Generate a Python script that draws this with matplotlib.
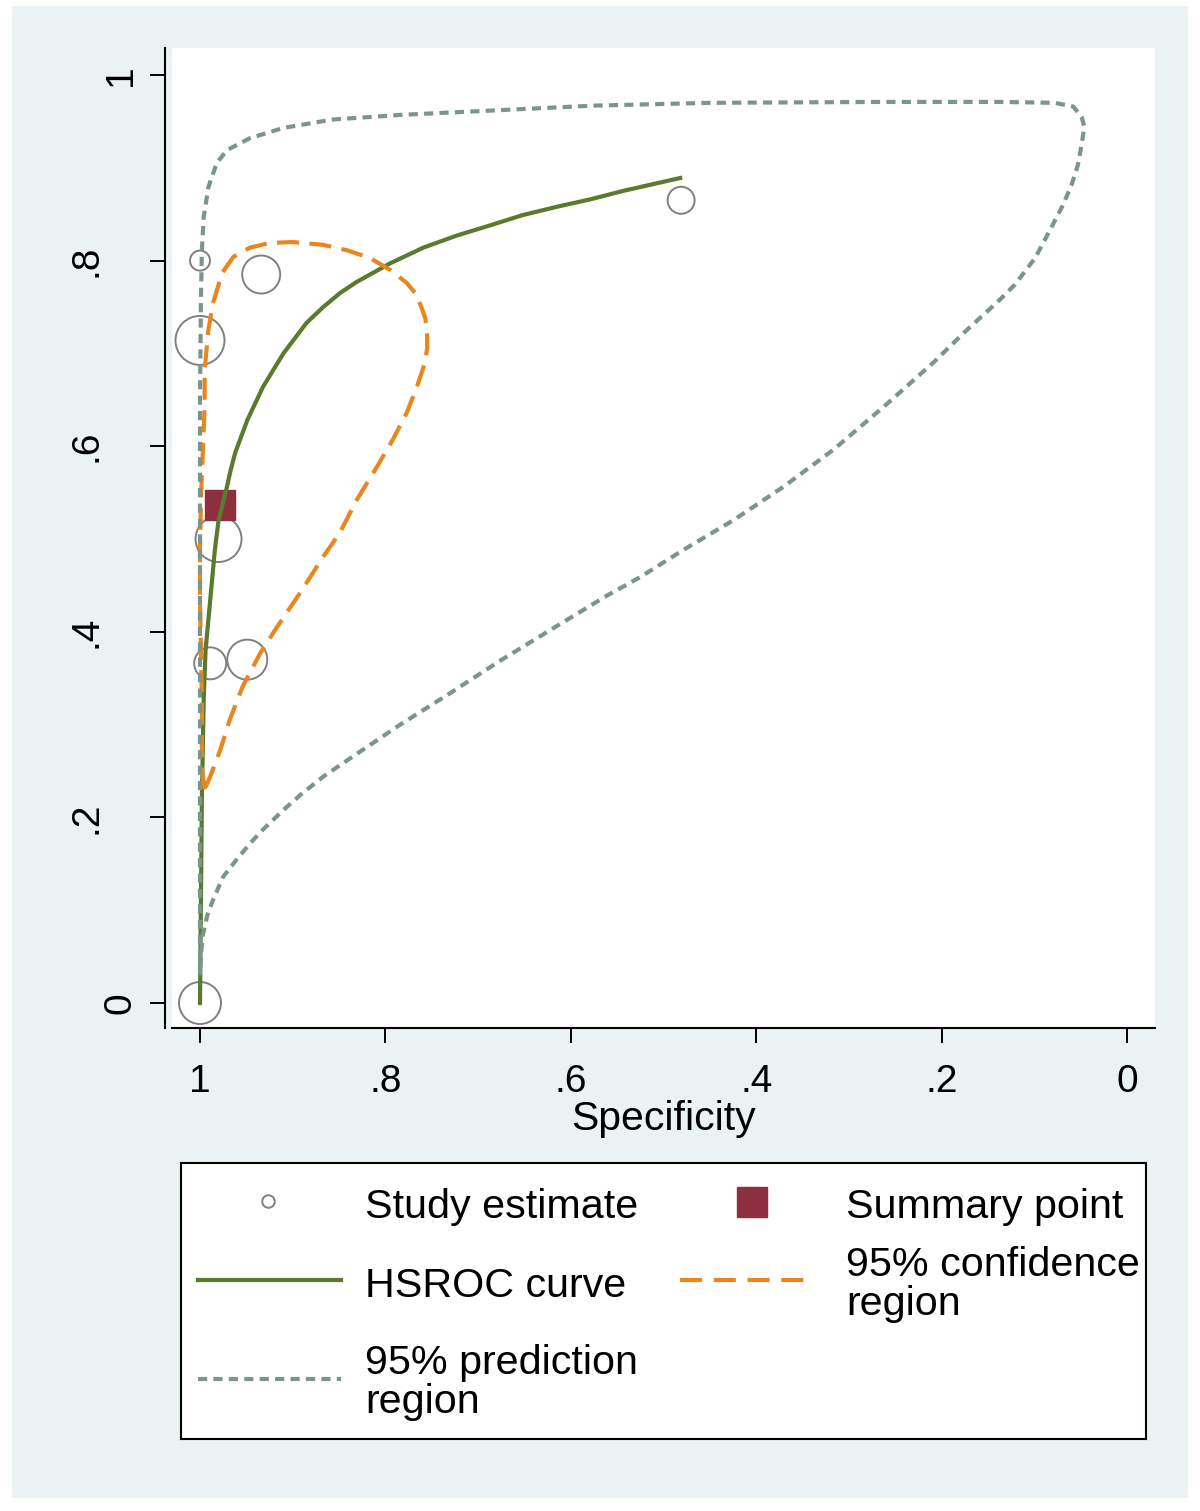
import matplotlib
matplotlib.use("Agg")
import matplotlib.pyplot as plt
from matplotlib.patches import Rectangle
from matplotlib.transforms import ScaledTranslation

plt.rcParams['font.family'] = ['Liberation Sans', 'DejaVu Sans']

# study estimates (specificity, sensitivity, circle radius in px ~ study weight)
study_spec = [1.000, 0.934, 1.000, 0.980, 0.989, 0.949, 1.000, 0.481]
study_sens = [0.800, 0.785, 0.714, 0.500, 0.366, 0.370, 0.000, 0.865]
study_size = [10, 19, 24.5, 23, 16, 20, 21, 13.5]

# summary point
summary_spec = [0.978]
summary_sens = [0.537]

# HSROC curve
hsroc_spec = [1.000, 0.999, 0.998, 0.997, 0.996, 0.994, 0.989, 0.984, 0.980, 0.971,
              0.967, 0.962, 0.949, 0.932, 0.910, 0.885, 0.867, 0.849, 0.831, 0.795,
              0.759, 0.723, 0.687, 0.652, 0.615, 0.579, 0.544, 0.482]
hsroc_sens = [0.000, 0.111, 0.219, 0.273, 0.327, 0.380, 0.434, 0.488, 0.520, 0.556,
              0.574, 0.593, 0.628, 0.664, 0.700, 0.733, 0.750, 0.765, 0.777, 0.797,
              0.814, 0.827, 0.838, 0.849, 0.858, 0.866, 0.875, 0.889]

# 95% confidence region (closed)
ci_spec = [0.995, 0.998, 0.998, 0.998, 0.999, 1.000, 1.000, 0.999, 0.997, 0.995, 0.995,
           0.991, 0.986, 0.976, 0.964, 0.946, 0.925, 0.900, 0.867, 0.841, 0.817, 0.795,
           0.777, 0.768, 0.762, 0.757, 0.755, 0.755, 0.757, 0.762, 0.766, 0.777, 0.792,
           0.809, 0.831, 0.849, 0.867, 0.892, 0.917, 0.935, 0.954, 0.968, 0.978, 0.989,
           0.995]
ci_sens = [0.230, 0.254, 0.291, 0.327, 0.380, 0.434, 0.488, 0.542, 0.593, 0.642, 0.682,
           0.725, 0.754, 0.787, 0.804, 0.814, 0.819, 0.820, 0.817, 0.811, 0.803, 0.790,
           0.776, 0.765, 0.752, 0.738, 0.722, 0.706, 0.691, 0.676, 0.664, 0.636, 0.607,
           0.578, 0.542, 0.507, 0.481, 0.442, 0.405, 0.377, 0.341, 0.305, 0.273, 0.244,
           0.230]

# 95% prediction region (closed)
pi_spec = [1.000, 1.000, 1.000, 1.000, 1.000, 0.999, 0.998, 0.996, 0.991, 0.982,
           0.971, 0.946, 0.910, 0.857, 0.784, 0.700, 0.575, 0.451, 0.264, 0.137,
           0.078, 0.058, 0.049, 0.046, 0.049, 0.053, 0.060, 0.070, 0.083, 0.099,
           0.121, 0.137, 0.173, 0.209, 0.263, 0.317, 0.371, 0.425, 0.479, 0.525,
           0.561, 0.622, 0.676, 0.730, 0.784, 0.836, 0.867, 0.892, 0.910, 0.933,
           0.946, 0.961, 0.975, 0.986, 0.992, 0.997, 0.999, 1.000]
pi_sens = [0.030, 0.111, 0.327, 0.542, 0.650, 0.758, 0.811, 0.847, 0.879, 0.905,
           0.919, 0.932, 0.943, 0.952, 0.957, 0.961, 0.967, 0.970, 0.971, 0.971,
           0.970, 0.966, 0.955, 0.944, 0.925, 0.903, 0.881, 0.858, 0.833, 0.803,
           0.774, 0.758, 0.725, 0.690, 0.642, 0.596, 0.556, 0.520, 0.488, 0.459,
           0.439, 0.402, 0.369, 0.334, 0.300, 0.265, 0.244, 0.224, 0.208, 0.186,
           0.172, 0.154, 0.136, 0.111, 0.095, 0.073, 0.052, 0.030]

ticks = [0, 0.2, 0.4, 0.6, 0.8, 1]
tick_labels = ["0", ".2", ".4", ".6", ".8", "1"]

green = '#5A7A2E'
orange = '#E8871E'
pgray = '#7A968C'
cgray = '#808080'
maroon = '#8E2F3F'

fig = plt.figure(figsize=(12, 15.11), dpi=100)
fig.patches.append(Rectangle((12/1200, 1 - 1498/1511), 1176/1200, 1492/1511,
                             transform=fig.transFigure, facecolor='#EAF2F3',
                             edgecolor='none', zorder=-1))

ax = fig.add_axes([172/1200, 1 - 1028/1511, 983/1200, 980/1511])
ax.set_facecolor('white')

sizes = [(2 * r * 0.72) ** 2 for r in study_size]
ax.scatter(study_spec, study_sens, s=sizes, facecolors='none', edgecolors=cgray,
           linewidths=1.4, zorder=2, clip_on=False)
ax.plot(summary_spec, summary_sens, 's', ms=21, color=maroon, zorder=3)
ax.plot(hsroc_spec, hsroc_sens, color=green, lw=3, zorder=4)
ax.plot(ci_spec, ci_sens, color=orange, lw=3, ls=(0, (5.3, 2.5)), zorder=4)
ax.plot(pi_spec, pi_sens, color=pgray, lw=3, ls=(0, (2.2, 1.5)), zorder=4)

ax.set_xlim(1 + 28/927, -28/927)
ax.set_ylim(-25/928, 1 + 27/928)

for s in ['top', 'right']:
    ax.spines[s].set_visible(False)
ax.spines['left'].set_position(('outward', 5))
ax.spines['left'].set_linewidth(1.5)
ax.spines['bottom'].set_linewidth(1.5)

ax.set_xticks(ticks)
ax.set_xticklabels(tick_labels)
ax.set_yticks(ticks)
ax.set_yticklabels(tick_labels, rotation=90, va='center')
ax.tick_params(axis='both', length=11, width=1.4, labelsize=28)
ax.tick_params(axis='x', pad=15)
ax.tick_params(axis='y', pad=8)

# Stata shifts the decimal labels further from the axis
for lab in ax.get_yticklabels():
    if lab.get_text().startswith('.'):
        lab.set_transform(lab.get_transform() +
                          ScaledTranslation(-34/100, 0, fig.dpi_scale_trans))

ax.set_xlabel('Specificity', fontsize=29.5)
ax.xaxis.label.set_va('baseline')
ax.xaxis.set_label_coords(0.5, (1028 - 1130) / 980)

# legend box (Stata style, two columns)
lax = fig.add_axes([181/1200, 1 - 1439/1511, 965/1200, 276/1511])
lax.set_xlim(181, 1146)
lax.set_ylim(1439, 1163)
lax.set_xticks([])
lax.set_yticks([])
for s in lax.spines.values():
    s.set_linewidth(1.5)

lax.plot([268], [1201], 'o', ms=9, mfc='none', mec=cgray, mew=1.4)
lax.plot([752], [1202], 's', ms=21.5, color=maroon)
lax.plot([198, 341], [1280, 1280], color=green, lw=3)
lax.plot([680, 811], [1280, 1280], color=orange, lw=3, ls=(0, (5.3, 2.8)))
lax.plot([198, 341], [1379, 1379], color=pgray, lw=3, ls=(0, (2.2, 1.5)))

fs = 29.7
lax.text(365, 1218, 'Study estimate', fontsize=fs, va='baseline')
lax.text(846, 1218, 'Summary point', fontsize=fs, va='baseline')
lax.text(365, 1297, 'HSROC curve', fontsize=fs, va='baseline')
lax.text(846, 1276, '95% confidence', fontsize=fs, va='baseline')
lax.text(846, 1315, 'region', fontsize=fs, va='baseline')
lax.text(365, 1374, '95% prediction', fontsize=fs, va='baseline')
lax.text(365, 1413, 'region', fontsize=fs, va='baseline')

fig.savefig('out.png', dpi=100, facecolor='white')
